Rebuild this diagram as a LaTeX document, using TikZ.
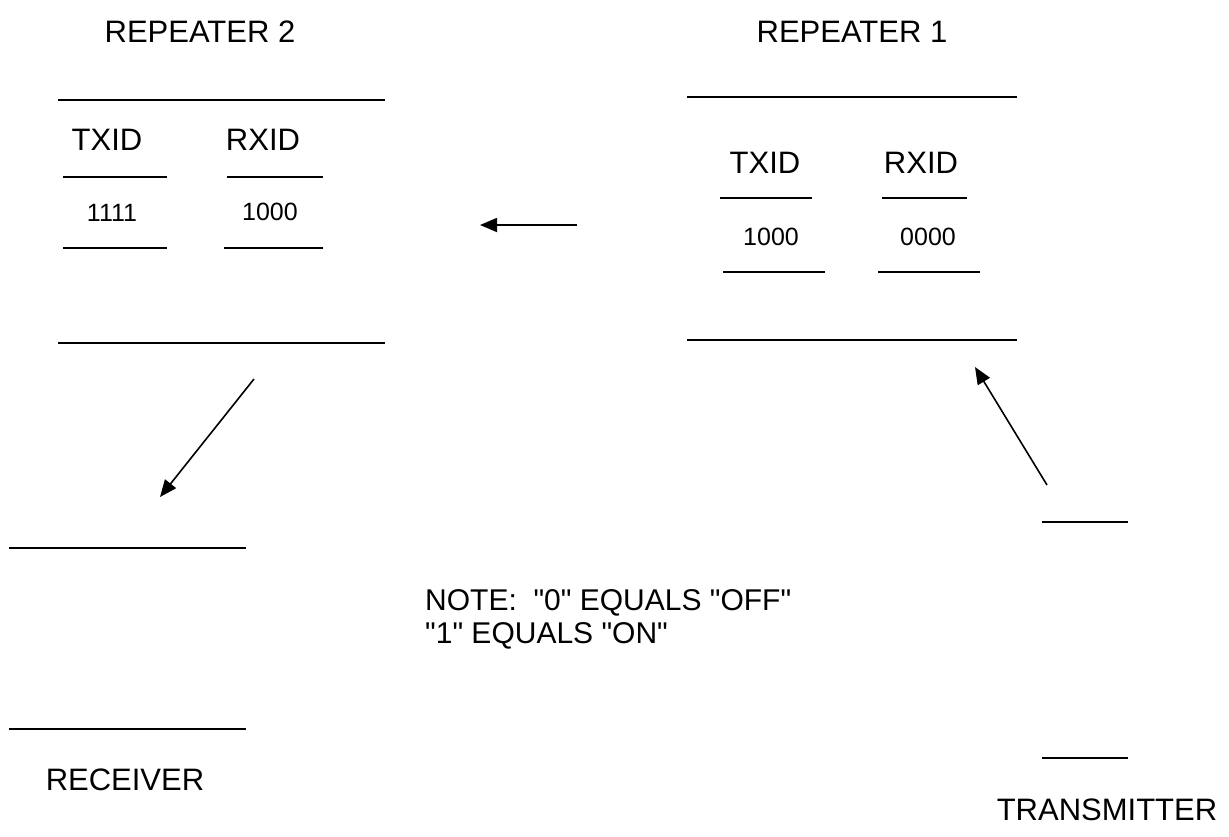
\documentclass[tikz,border=0pt]{standalone}
\usepackage{fontspec}
\setmainfont{Liberation Sans}[Ligatures=TeXOff]
\usetikzlibrary{arrows.meta}
\begin{document}
\begin{tikzpicture}[x=1pt,y=-1pt,
  rule/.style={line width=1.5pt},
  conn/.style={line width=1.6pt,-{Triangle[length=17pt,width=14pt]}},
  title/.style={anchor=base,inner sep=0pt,font=\fontsize{31}{36}\selectfont},
  hdr/.style={anchor=base,inner sep=0pt,font=\fontsize{31}{36}\selectfont},
  num/.style={anchor=base,inner sep=0pt,font=\fontsize{25}{30}\selectfont},
  note/.style={anchor=base west,inner sep=0pt,font=\fontsize{30}{34}\selectfont},
  blk/.style={inner sep=0pt,draw=none}]
\useasboundingbox (0,0) rectangle (1229,836);

% block outlines (only top and bottom edges survive)
\node[blk,minimum width=327pt,minimum height=243pt] (rep2) at (221.5,221.5) {};
\node[blk,minimum width=330pt,minimum height=243pt] (rep1) at (852,218.5) {};
\node[blk,minimum width=237pt,minimum height=181pt] (rx) at (127.5,638.5) {};
\node[blk,minimum width=86pt,minimum height=236pt] (tx) at (1085,640) {};
\foreach \b in {rep2,rep1,rx,tx}{
  \draw[rule] (\b.north west) -- (\b.north east);
  \draw[rule] (\b.south west) -- (\b.south east);
}

% titles
\node[title] (t2) at (200,42) {REPEATER 2};
\node[title] (t1) at (852,42) {REPEATER 1};
\node[title] (trx) at (125,790) {RECEIVER};
\node[title] (ttx) at (1107,820) {TRANSMITTER};

% repeater 2 table
\node[hdr] (r2tx) at (107,150) {TXID};
\node[hdr] (r2rx) at (263,150) {RXID};
\node[num] (r2txv) at (112,221) {1111};
\node[num] (r2rxv) at (270,220) {1000};
\draw[rule] (63,177) -- (167,177);
\draw[rule] (227,177) -- (323,177);
\draw[rule] (63,248) -- (167,248);
\draw[rule] (224,248) -- (323,248);

% repeater 1 table
\node[hdr] (r1tx) at (765,173) {TXID};
\node[hdr] (r1rx) at (921,173) {RXID};
\node[num] (r1txv) at (771,245) {1000};
\node[num] (r1rxv) at (928,245) {0000};
\draw[rule] (720,198) -- (812,198);
\draw[rule] (882,198) -- (967,198);
\draw[rule] (723,272) -- (825,272);
\draw[rule] (878,272) -- (980,272);

% note
\node[note] (n1) at (425,610) {NOTE:\ \ "0" EQUALS "OFF"};
\node[note] (n2) at (425,643) {"1" EQUALS "ON"};

% connectors
\coordinate (a1s) at (577,225);
\coordinate (a1e) at (480,225);
\coordinate (a2s) at (254,379);
\coordinate (a2e) at (160,497);
\coordinate (a3s) at (1047,485);
\coordinate (a3e) at (975,367);
\draw[conn] (a1s) -- (a1e);
\draw[conn] (a2s) -- (a2e);
\draw[conn] (a3s) -- (a3e);
\end{tikzpicture}
\end{document}
